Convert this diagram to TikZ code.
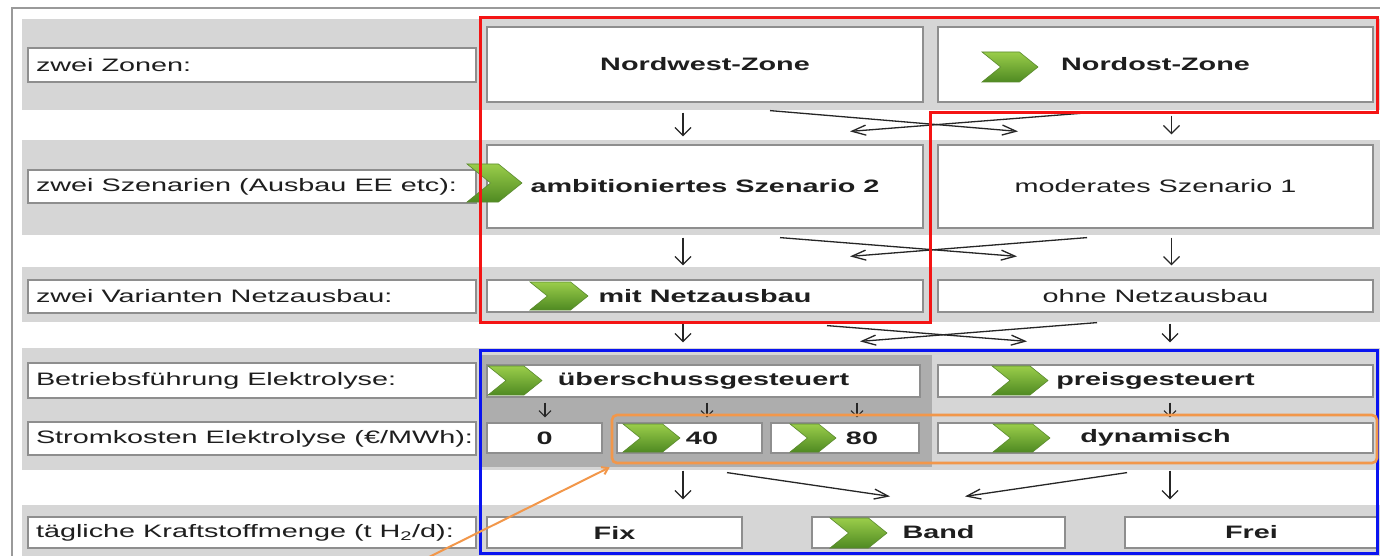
\documentclass[tikz,border=0pt]{standalone}
\usepackage{fontspec}
\setmainfont{Liberation Sans}[FakeStretch=1.6]
\usetikzlibrary{arrows.meta}

\definecolor{bandgray}{HTML}{D6D6D6}
\definecolor{darkband}{HTML}{ADADAD}
\definecolor{boxline}{HTML}{8E8E8E}
\definecolor{frameline}{HTML}{9A9A9A}
\definecolor{chevtop}{HTML}{9ACD4A}
\definecolor{chevmid}{HTML}{7DBA35}
\definecolor{chevbot}{HTML}{4F8A22}
\definecolor{chevline}{HTML}{5A8A2E}
\definecolor{hlred}{HTML}{F41414}
\definecolor{hlblue}{HTML}{0A14F0}
\definecolor{hlorange}{HTML}{F2974A}
\definecolor{inktext}{HTML}{1E1E1E}

% green chevron marker: corners (x1,y1) and (x2,y2)
\newcommand\greenchevron[4]{%
  \pgfmathsetmacro\chd{0.62*(#4-#2)}%
  \shade[top color=chevtop, middle color=chevmid, bottom color=chevbot,
         draw=chevline, line width=0.6pt]
    (#1,#2) -- ({#3-\chd},#2) -- (#3,{(#2+#4)/2}) -- ({#3-\chd},#4)
    -- (#1,#4) -- ({#1+\chd},{(#2+#4)/2}) -- cycle;}
% left-aligned row caption that never wraps
\newcommand\rowcaption[1]{\makebox[432pt][l]{#1}}

\begin{document}
\begin{tikzpicture}[x=1pt,y=-1pt,
  txt/.style={font=\fontsize{18}{21}\selectfont, text=inktext},
  lbl/.style={txt, draw=boxline, line width=1.2pt, fill=white,
    inner xsep=8pt, inner ysep=0pt, minimum height=33pt},
  opt/.style={txt, draw=boxline, line width=1.2pt, fill=white,
    inner sep=0pt, font=\fontsize{18}{21}\selectfont\bfseries},
  optr/.style={opt, font=\fontsize{18}{21}\selectfont},
  varr/.style={draw=black!85, line width=1.3pt,
    -{Straight Barb[length=8pt,width=16pt]}},
  sarr/.style={draw=black!85, line width=1.1pt,
    -{Straight Barb[length=6pt,width=12pt]}},
  harr/.style={draw=black!85, line width=1.3pt,
    -{Straight Barb[length=14pt,width=10pt]}},
  selbox/.style={draw=hlorange, line width=2.6pt, rounded corners=5pt,
    inner sep=0pt}
]
\useasboundingbox (0,0) rectangle (1380,556);
\clip (0,0) rectangle (1380,556);
\fill[white] (0,0) rectangle (1380,556);

% frame and row bands
\draw[frameline, line width=1.5pt] (12,8) rectangle (1392,570);
\fill[bandgray] (22,19) rectangle (1380,110);
\fill[bandgray] (22,140) rectangle (1380,235);
\fill[bandgray] (22,267) rectangle (1380,322);
\fill[bandgray] (22,348) rectangle (1380,470);
\fill[bandgray] (22,505) rectangle (1380,560);
\fill[darkband] (482,355) rectangle (932,467);

% row labels
\node[lbl, minimum height=34pt] (lz) at (252,65) {\rowcaption{zwei Zonen:}};
\node[lbl] (ls) at (252,186.5) {\rowcaption{zwei Szenarien (Ausbau EE etc):}};
\node[lbl] (lv) at (252,296.5) {\rowcaption{zwei Varianten Netzausbau:}};
\node[lbl, minimum height=35pt] (lb) at (252,380.5) {\rowcaption{Betriebsführung Elektrolyse:}};
\node[lbl] (lk) at (252,438.5) {\rowcaption{Stromkosten Elektrolyse (€/MWh):}};
\node[lbl, minimum height=31pt] (lt) at (252,532.5) {\rowcaption{tägliche Kraftstoffmenge (t H\textsubscript{2}/d):}};

% option boxes
\node[opt,  minimum width=436pt, minimum height=75pt] (nw)   at (705,64.5)    {Nordwest-Zone};
\node[opt,  minimum width=435pt, minimum height=75pt] (no)   at (1155.5,64.5) {Nordost-Zone};
\node[opt,  minimum width=436pt, minimum height=83pt] (amb)  at (705,186.5)   {ambitioniertes Szenario 2};
\node[optr, minimum width=435pt, minimum height=83pt] (mod)  at (1155.5,186.5){moderates Szenario 1};
\node[opt,  minimum width=436pt, minimum height=32pt] (mit)  at (705,296)     {mit Netzausbau};
\node[optr, minimum width=435pt, minimum height=32pt] (ohne) at (1155.5,296)  {ohne Netzausbau};
\node[opt,  minimum width=433pt, minimum height=32pt] (ueb)  at (703.5,381)   {überschussgesteuert};
\node[opt,  minimum width=435pt, minimum height=32pt] (preis) at (1155.5,381) {preisgesteuert};
\node[opt,  minimum width=115pt, minimum height=30pt] (c0)   at (544.5,438)   {0};
\node[opt,  minimum width=145pt, minimum height=30pt] (c40)  at (689.5,438)   {\hspace*{25pt}40};
\node[opt,  minimum width=148pt, minimum height=30pt] (c80)  at (845,438)     {\hspace*{34pt}80};
\node[opt,  minimum width=435pt, minimum height=30pt] (dyn)  at (1155.5,438)  {dynamisch};
\node[opt,  minimum width=255pt, minimum height=31pt] (fix)  at (614.5,532.5) {Fix};
\node[opt,  minimum width=253pt, minimum height=31pt] (band) at (938.5,532.5) {Band};
\node[opt,  minimum width=253pt, minimum height=31pt] (frei) at (1251.5,532.5){Frei};

% green chevrons on the chosen options
\greenchevron{982}{52}{1038}{82}
\greenchevron{467}{164}{522}{202}
\greenchevron{530}{282}{588}{310}
\greenchevron{488}{366}{542}{395}
\greenchevron{992}{366}{1048}{395}
\greenchevron{623}{424}{680}{452}
\greenchevron{790}{424}{836}{452}
\greenchevron{993}{424}{1050}{452}
\greenchevron{830}{518}{887}{548}

% zones -> scenarios
\draw[varr] ([xshift=-22pt,yshift=-10pt]nw.south) -- ([xshift=-22pt,yshift=8pt]amb.north);
\draw[varr] ([xshift=16pt,yshift=-13pt]no.south) -- ([xshift=16pt,yshift=10pt]mod.north);
\draw[harr] ([xshift=65pt,yshift=-8pt]nw.south) -- ([xshift=-137.5pt,yshift=13pt]mod.north);
\draw[harr] ([xshift=-65.5pt,yshift=-10pt]no.south) -- ([xshift=145pt,yshift=13pt]amb.north);

% scenarios -> grid variants
\draw[varr] ([xshift=-22pt,yshift=-9pt]amb.south) -- ([xshift=-22pt,yshift=14pt]mit.north);
\draw[varr] ([xshift=16pt,yshift=-9pt]mod.south) -- ([xshift=16pt,yshift=14pt]ohne.north);
\draw[harr] ([xshift=75pt,yshift=-9pt]amb.south) -- ([xshift=-138.5pt,yshift=23pt]ohne.north);
\draw[harr] ([xshift=-68.5pt,yshift=-9pt]mod.south) -- ([xshift=145pt,yshift=23pt]mit.north);

% grid variants -> operation
\draw[varr] ([xshift=-22pt,yshift=-11pt]mit.south) -- ([xshift=-20.5pt,yshift=22pt]ueb.north);
\draw[varr] ([xshift=14.5pt,yshift=-11pt]ohne.south) -- ([xshift=14.5pt,yshift=22pt]preis.north);
\draw[harr] ([xshift=122pt,yshift=-13pt]mit.south) -- ([xshift=-128.5pt,yshift=23pt]preis.north);
\draw[harr] ([xshift=-58.5pt,yshift=-10pt]ohne.south) -- ([xshift=156.5pt,yshift=23pt]ueb.north);

% operation -> power costs
\draw[sarr] ([xshift=-158.5pt,yshift=-5pt]ueb.south) -- ([xshift=0.5pt,yshift=5pt]c0.north);
\draw[sarr] ([xshift=3.5pt,yshift=-5pt]ueb.south) -- ([xshift=17.5pt,yshift=5pt]c40.north);
\draw[sarr] ([xshift=153.5pt,yshift=-5pt]ueb.south) -- ([xshift=12pt,yshift=5pt]c80.north);
\draw[sarr] ([xshift=14.5pt,yshift=-5pt]preis.south) -- ([xshift=14.5pt,yshift=5pt]dyn.north);

% power costs -> fuel amount
\draw[varr] ([xshift=-6.5pt,yshift=-17pt]c40.south) -- ([xshift=68.5pt,yshift=17pt]fix.north);
\draw[harr] ([xshift=37.5pt,yshift=-19pt]c40.south) -- ([xshift=-48.5pt,yshift=20pt]band.north);
\draw[harr] ([xshift=-28.5pt,yshift=-19pt]dyn.south) -- ([xshift=26.5pt,yshift=20pt]band.north);
\draw[varr] ([xshift=14.5pt,yshift=-17pt]dyn.south) -- ([xshift=-81.5pt,yshift=17pt]frei.north);

% highlight outlines
\draw[hlred, line width=3pt] (480,18) -- (1377,18) -- (1377,113) -- (930,113)
  -- (930,322) -- (480,322) -- cycle;
\node[draw=hlblue, line width=3pt, inner sep=0pt, minimum width=897pt,
  minimum height=203pt] (blu) at (928.5,451.5) {};
\node[selbox, minimum width=765pt, minimum height=48pt] (sel) at (994.5,439) {};
\coordinate (ptail) at (423,560);
\draw[hlorange, line width=2pt, -{Straight Barb[length=6pt,width=8pt]}]
  (ptail) -- ([xshift=-1pt,yshift=-3pt]sel.south west);
\end{tikzpicture}
\end{document}
